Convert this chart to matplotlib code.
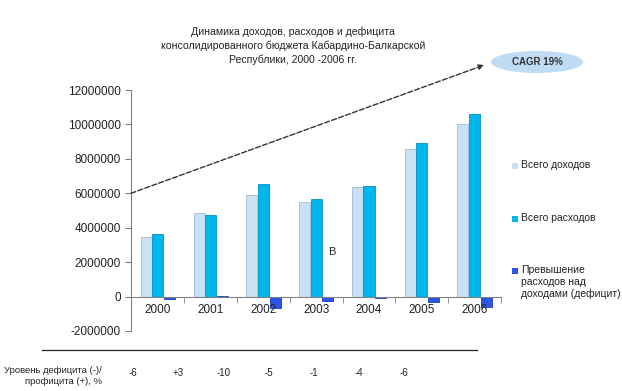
import matplotlib.pyplot as plt
import numpy as np
from matplotlib.patches import Ellipse, Rectangle
plt.rcParams["font.family"] = ["Liberation Sans", "DejaVu Sans"]

years = ["2000", "2001", "2002", "2003", "2004", "2005", "2006"]
revenue = [3440000, 4830000, 5910000, 5490000, 6340000, 8580000, 10030000]
expenses = [3610000, 4730000, 6530000, 5680000, 6420000, 8940000, 10600000]
deficit = [-150000, 60000, -650000, -260000, -80000, -300000, -600000]
deficit_pct = ["-6", "+3", "-10", "-5", "-1", "-4", "-6"]

labels = ["Всего доходов", "Всего расходов",
          "Превышение\nрасходов над\nдоходами (дефицит)"]
colors = ["#c9e1f5", "#00b6ea", "#2b55e4"]
edges = ["#9fbcd6", "#0093c4", "#1c3cb8"]

fig = plt.figure(figsize=(6.22, 3.91), dpi=100)
ax = fig.add_axes([0.2114, 0.1535, 0.594, 0.6163])

x = np.arange(len(years))
w = 0.21
ax.bar(x - 0.22, revenue, w, color=colors[0], edgecolor=edges[0], linewidth=0.6)
ax.bar(x, expenses, w, color=colors[1], edgecolor=edges[1], linewidth=0.6)
ax.bar(x + 0.22, deficit, w, color=colors[2], edgecolor=edges[2], linewidth=0.6)

ax.set_xlim(-0.5, len(years) - 0.5)
ax.set_ylim(-2000000, 12000000)
ax.set_yticks(np.arange(-2000000, 12000001, 2000000))
ax.set_yticklabels([str(v) for v in range(-2000000, 12000001, 2000000)])
ax.set_xticks(x)
ax.set_xticklabels(years)
ax.set_xticks(np.arange(-0.5, len(years), 1), minor=True)
ax.tick_params(axis="x", which="major", length=0, labelsize=8.5, pad=5, colors="#222222")
ax.tick_params(axis="x", which="minor", length=4, color="#808080")
ax.tick_params(axis="y", length=4, color="#808080", labelsize=8.5, labelcolor="#222222")

for s in ["top", "right"]:
    ax.spines[s].set_visible(False)
ax.spines["bottom"].set_position(("data", 0))
ax.spines["bottom"].set_color("#808080")
ax.spines["left"].set_color("#808080")

ax.text(3.3, 2600000, "В", fontsize=8, ha="center", va="center", color="#222222")

# trend arrow
ax.annotate("", xy=(6.18, 13450000), xytext=(-0.51, 6000000),
            arrowprops=dict(arrowstyle="-|>", linestyle="--", color="#333333",
                            lw=1.0, mutation_scale=8, shrinkA=0, shrinkB=0),
            annotation_clip=False)

ell = Ellipse((537 / 622, 1 - 62 / 391), 92 / 622, 22 / 391, transform=fig.transFigure,
              facecolor="#bfdcf4", edgecolor="none")
fig.add_artist(ell)
fig.text(537 / 622, 1 - 62 / 391, "CAGR 19%", ha="center", va="center",
         fontsize=7, fontweight="bold", color="#333333")

fig.text(293 / 622, 1 - 46 / 391,
         "Динамика доходов, расходов и дефицита\nконсолидированного бюджета Кабардино-Балкарской\nРеспублики, 2000 -2006 гг.",
         ha="center", va="center", fontsize=7.6, color="#222222", linespacing=1.4)

# legend
leg_y = [166, 219, 271]
for lab, c, y in zip(labels, colors, leg_y):
    fig.add_artist(Rectangle((512 / 622, 1 - (y + 3) / 391), 6 / 622, 6 / 391,
                             transform=fig.transFigure, facecolor=c, edgecolor="none"))
    fig.text(521 / 622, 1 - (y - 6) / 391, lab, ha="left", va="top",
             fontsize=7.5, color="#222222", linespacing=1.2)

# bottom table
fig.add_artist(plt.Line2D([42 / 622, 477 / 622], [1 - 350 / 391, 1 - 350 / 391],
                          transform=fig.transFigure, color="#222222", lw=0.9))
fig.text(102 / 622, 1 - 376 / 391, "Уровень дефицита (-)/\nпрофицита (+), %",
         ha="right", va="center", fontsize=6.8, color="#222222", linespacing=1.4)
tax = fig.add_axes([110.4 / 622, 1 - 385 / 391, 316.4 / 622, 24 / 391])
tax.set_xlim(-0.5, len(years) - 0.5)
tax.set_ylim(0, 1)
tax.axis("off")
for i, v in enumerate(deficit_pct):
    tax.text(i, 0.5, v, ha="center", va="center", fontsize=7, color="#222222")

plt.savefig("out.png", dpi=100)
